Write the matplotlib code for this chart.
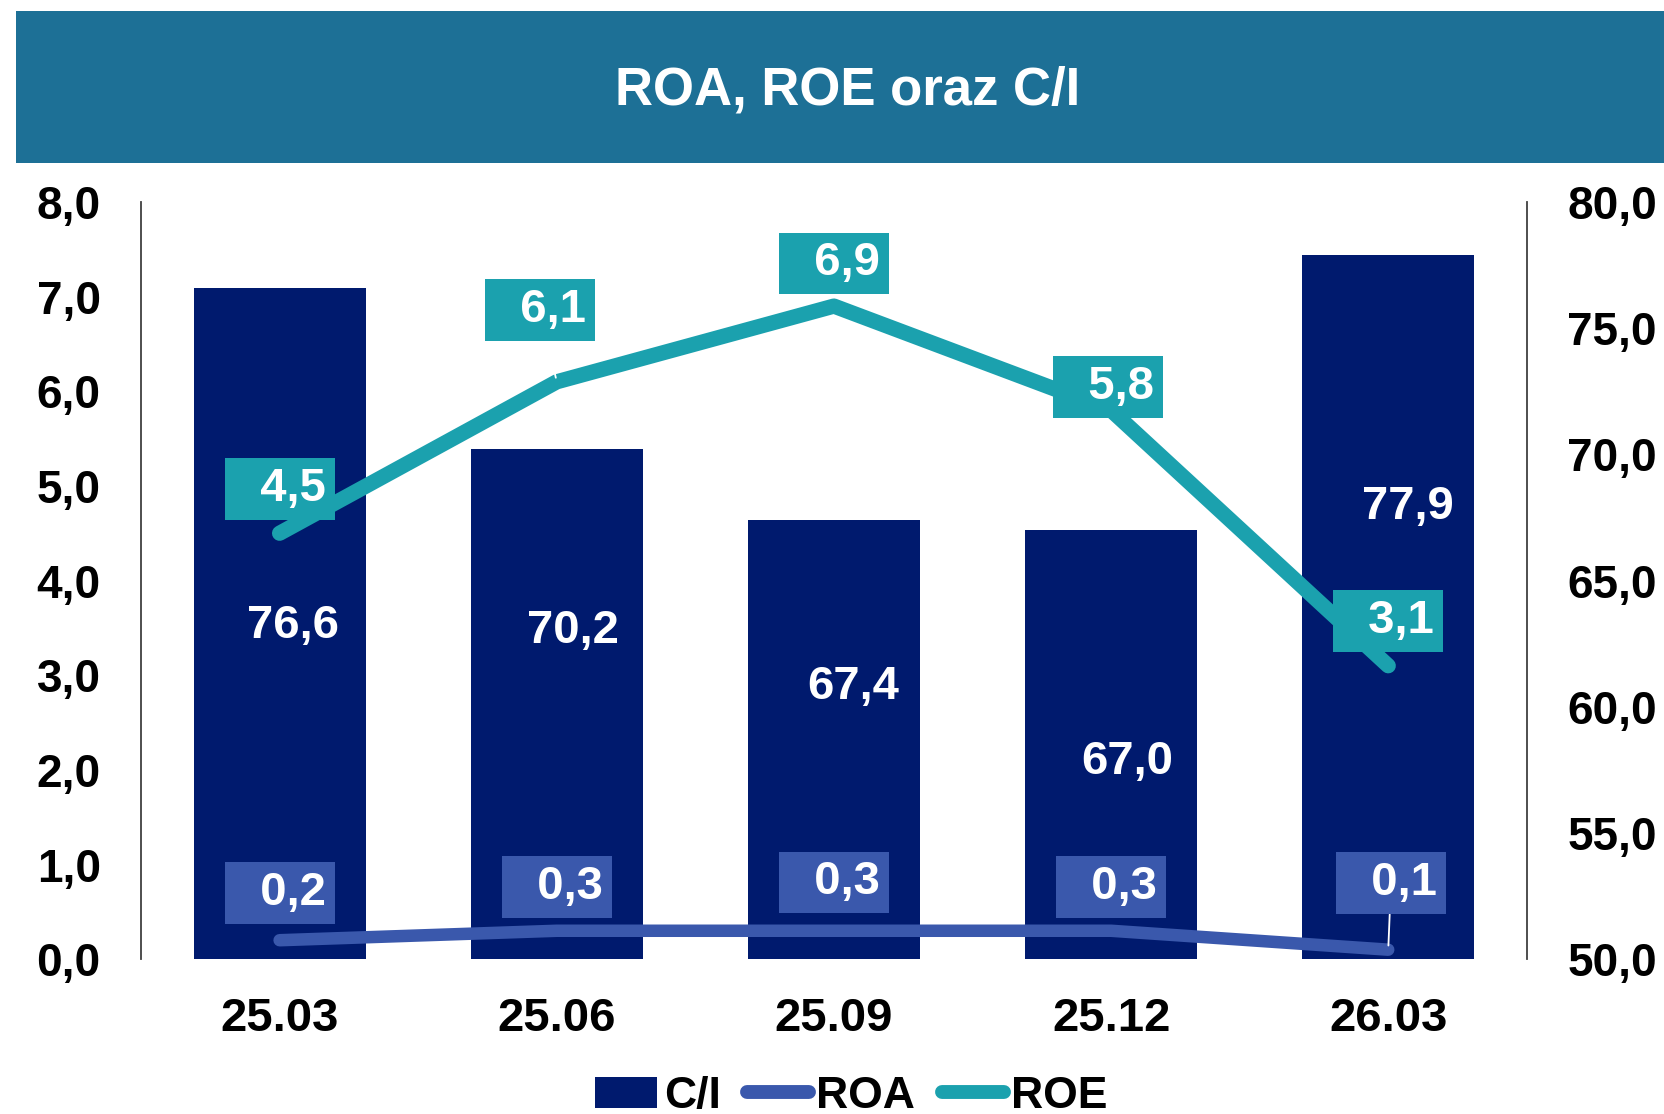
import numpy as np
import matplotlib.pyplot as plt
from matplotlib.patches import Rectangle, Patch
from matplotlib.lines import Line2D

plt.rcParams['font.family'] = ['Liberation Sans', 'DejaVu Sans']
plt.rcParams['font.weight'] = 'bold'

quarters = ['25.03', '25.06', '25.09', '25.12', '26.03']
ci = [76.6, 70.2, 67.4, 67.0, 77.9]
roa = [0.2, 0.3, 0.3, 0.3, 0.1]
roe = [4.5, 6.1, 6.9, 5.8, 3.1]

# label placement (box centres), C/I on right scale, ROA/ROE on left scale
ci_lab_x = [0.05, 1.06, 2.07, 3.06, 4.07]
ci_lab_y = [63.2, 63.0, 60.8, 57.8, 67.9]
roe_lab_x = [0.0, 0.94, 2.0, 2.99, 4.0]
roe_lab_y = [4.97, 6.86, 7.35, 6.05, 3.57]
roe_leader = [False, True, False, False, False]
roa_lab_x = [0.0, 1.0, 2.0, 3.0, 4.01]
roa_lab_y = [0.70, 0.76, 0.81, 0.76, 0.80]
roa_leader = [False, False, False, False, True]

navy = '#001A6E'
teal = '#1BA1AE'
blue = '#3A58AC'
header = '#1D7096'


def fmt(v):
    return f'{v:.1f}'.replace('.', ',')


fig = plt.figure(figsize=(16.65, 11.14), dpi=100)

# header bar
fig.patches.append(Rectangle((0.0096, 0.8537), 0.9904, 0.1364, transform=fig.transFigure,
                             facecolor=header, edgecolor='none', zorder=0))
fig.text(0.509, 0.919, 'ROA, ROE oraz C/I', color='white', fontsize=38,
         fontweight='bold', ha='center', va='center')

ax = fig.add_axes([0.0847, 0.139, 0.8323, 0.6797])
x = np.arange(len(quarters))
ax2 = ax.twinx()

# C/I bars on the right-hand scale
ax.bar(x, ci, width=0.62, color=navy, zorder=1)
ax.set_ylim(50, 80)
ax.set_xlim(-0.5, 4.5)
ax.yaxis.tick_right()
ax.set_yticks(np.arange(50, 81, 5))
ax.set_yticklabels([fmt(v) for v in np.arange(50, 81, 5)])
ax.set_xticks(x)
ax.set_xticklabels(quarters)
ax.tick_params(axis='both', length=0)
ax.tick_params(axis='y', labelsize=33, pad=29)
ax.tick_params(axis='x', labelsize=34, pad=27)
for s in ['top', 'bottom', 'left', 'right']:
    ax.spines[s].set_visible(False)

for xi, yi, v in zip(ci_lab_x, ci_lab_y, ci):
    ax.text(xi, yi, fmt(v), color='white', fontsize=34,
            fontweight='bold', ha='center', va='center', zorder=5)

# ROA / ROE lines on the left-hand scale
ax2.yaxis.tick_left()
ax2.set_ylim(0, 8)
ax2.set_yticks(np.arange(0, 9, 1))
ax2.set_yticklabels([fmt(v) for v in np.arange(0, 9, 1)])
ax2.tick_params(axis='y', length=0, labelsize=33, pad=29)
ax2.spines['top'].set_visible(False)
ax2.spines['bottom'].set_visible(False)
for s in ['left', 'right']:
    ax2.spines[s].set_color('#404040')
    ax2.spines[s].set_linewidth(1.3)

ax2.plot(x, roa, color=blue, lw=9, solid_capstyle='round', zorder=2)
ax2.plot(x, roe, color=teal, lw=11, solid_capstyle='round', zorder=2)


def label(xi, yi, lx, ly, v, color, leader):
    arrow = dict(arrowstyle='-', color='white', lw=1.3, shrinkA=0, shrinkB=3) if leader else None
    ax2.annotate('  ' + fmt(v), xy=(xi, yi), xytext=(lx, ly),
                 color='white', fontsize=34, fontweight='bold', ha='center', va='center',
                 bbox=dict(boxstyle='square,pad=0.19', fc=color, ec='none'),
                 arrowprops=arrow, zorder=4)


for i in range(len(quarters)):
    label(x[i], roe[i], roe_lab_x[i], roe_lab_y[i], roe[i], teal, roe_leader[i])
    label(x[i], roa[i], roa_lab_x[i], roa_lab_y[i], roa[i], blue, roa_leader[i])

handles = [Patch(facecolor=navy, edgecolor='none'),
           Line2D([], [], color=blue, lw=10, solid_capstyle='round'),
           Line2D([], [], color=teal, lw=10, solid_capstyle='round')]
fig.legend(handles, ['C/I', 'ROA', 'ROE'], loc='center', bbox_to_anchor=(0.511, 0.016),
           ncol=3, frameon=False, fontsize=32, handlelength=1.4, handletextpad=0.15,
           columnspacing=0.6, borderpad=0)

fig.savefig('out.png', dpi=100)
